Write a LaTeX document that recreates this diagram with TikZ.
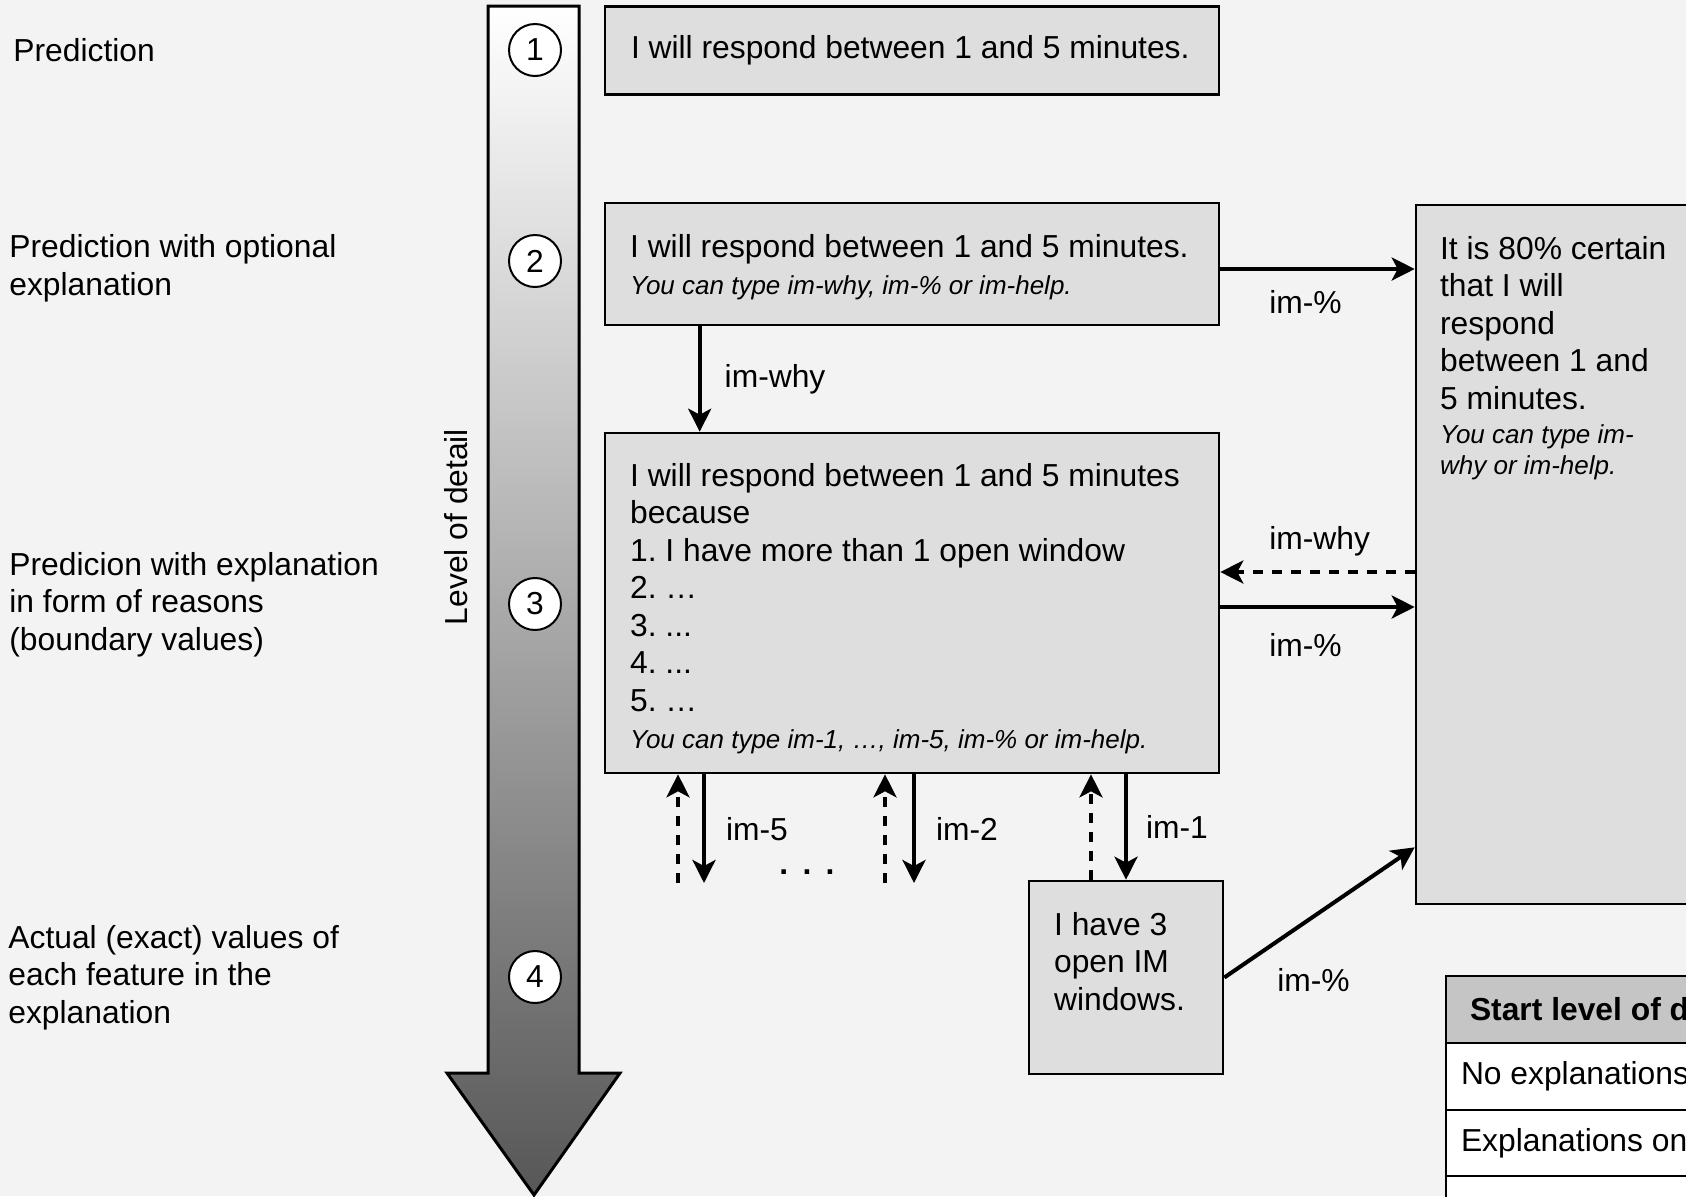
\documentclass[tikz,border=0pt]{standalone}
\usepackage{fontspec}
\setmainfont{Liberation Sans}
\usetikzlibrary{calc,positioning,arrows.meta}
\definecolor{paper}{RGB}{243,243,243}
\definecolor{msgfill}{RGB}{222,222,222}
\definecolor{headfill}{RGB}{196,197,196}
\frenchspacing
\newcommand{\hintfont}{\fontsize{13}{18.75}\selectfont\itshape}
\tikzset{%
  txt/.style = { font=\fontsize{15.9}{18.75}\selectfont },
  plain/.style = { execute at begin node={\spaceskip=0pt\xspaceskip=0pt} },
  level/.style = { txt, align=left, anchor=west, inner sep=0pt },
  msg/.style = { txt, plain, draw=black, fill=msgfill, line width=1.3pt, align=left, inner xsep=13pt, inner ysep=0pt },
  note/.style = { txt, plain, align=left, anchor=north west, inner sep=0pt },
  num/.style = { txt, circle, draw=black, fill=white, line width=1pt, minimum size=26pt, inner sep=0pt },
  lab/.style = { txt, inner sep=0pt },
  cmd/.style = { draw=black, line width=2pt, -{Stealth[length=11.5pt,width=11.5pt,inset=3pt]} },
  back/.style = { cmd, dash pattern=on 5pt off 4.5pt },
  cell/.style = { txt, plain, draw=black, line width=1pt, outer sep=0pt, minimum width=160pt, minimum height=33.4pt, align=left, inner ysep=0pt }
}

\begin{document}
\begin{tikzpicture}[x=0.5pt, y=0.5pt]
  \useasboundingbox (0,0) rectangle (1686,-1196);
  \clip (0,0) rectangle (1686,-1196);
  \fill[paper] (0,0) rectangle (1686,-1196);

  % Level of detail arrow
  \shade[top color=white, bottom color=black!66, draw=black, line width=1.5pt]
    (488,-6) -- (579,-6) -- (579,-1073) -- (620,-1073) -- (534,-1195) -- (447,-1073) -- (488,-1073) -- cycle;
  \node[txt, rotate=90] (lod) at (456,-527) {Level of detail};

  % Levels
  \node[num] (n1) at (535,-50) {1};
  \node[num] (n2) at (535,-261) {2};
  \node[num] (n3) at (535,-604) {3};
  \node[num] (n4) at (535,-977) {4};

  \node[level] (l1) at (13,-50) {Prediction};
  \node[level] (l2) at (9,-268.5) {Prediction with optional\\explanation};
  \node[level] (l3) at (9,-604.5) {Predicion with explanation\\in form of reasons\\(boundary values)};
  \node[level] (l4) at (8,-977.5) {Actual (exact) values of\\each feature in the\\explanation};

  % Messages
  \node[msg, text width=281pt, minimum height=44pt] (b1) at (912,-50.5) {I will respond between 1 and 5 minutes.};

  \node[msg, minimum width=307pt, minimum height=61pt] (b2) at (912,-264) {};
  \node[note, text width=281pt] (t2) at ($(b2.north west)+(26,-32)$) {I will respond between 1 and 5 minutes.\\{\hintfont You can type im-why, im-\% or im-help.}};

  \node[msg, minimum width=307pt, minimum height=170pt] (b3) at (912,-603) {};
  \node[note, text width=281pt] (t3) at ($(b3.north west)+(26,-31)$) {I will respond between 1 and 5 minutes\\because\\1. I have more than 1 open window\\2. …\\3. ...\\4. ...\\5. …\\{\hintfont You can type im-1, …, im-5, im-\% or im-help.}};

  \node[msg, minimum width=97pt, minimum height=96.5pt] (b4) at (1126,-977.5) {};
  \node[note] (t4) at ($(b4.north west)+(26,-32)$) {I have 3\\open IM\\windows.};

  \node[msg, minimum width=172pt, minimum height=349.5pt] (rb) at (1588,-554.5) {};
  \node[note, text width=130pt] (t5) at ($(rb.north west)+(25,-32)$) {It is 80\% certain\\that I will\\respond\\between 1 and\\5 minutes.\par\vspace{1.75pt}{\fontsize{13}{15.5}\selectfont\itshape You can type im-\\why or im-help.\par}};

  % Table
  \node[cell, fill=headfill, text width=136pt, inner xsep=12pt] (th) at (1606,-1009.4) {\bfseries Start level of d};
  \node[cell, fill=white, text width=145pt, inner xsep=7.5pt, below=0pt of th] (r1) {No explanations};
  \node[cell, fill=white, text width=145pt, inner xsep=7.5pt, below=0pt of r1] (r2) {Explanations on};
  \node[cell, fill=white, below=0pt of r2] (r3) {};

  % Commands
  \draw[cmd] ([yshift=-2.5pt]b2.east) -- ([yshift=-2.5pt]b2.east -| rb.west) node[lab, pos=0, anchor=west, xshift=23.5pt, yshift=-16.5pt] {im-\%};
  \draw[cmd] ([xshift=48pt]b2.south west) -- ([xshift=48pt]b2.south west |- b3.north) node[lab, midway, anchor=west, xshift=11.5pt] {im-why};
  \draw[back] ([yshift=15.5pt]b3.east -| rb.west) -- ([yshift=15.5pt]b3.east) node[lab, pos=1, anchor=west, xshift=23.5pt, yshift=15.5pt] {im-why};
  \draw[cmd] ([yshift=-2pt]b3.east) -- ([yshift=-2pt]b3.east -| rb.west) node[lab, pos=0, anchor=west, xshift=23.5pt, yshift=-19pt] {im-\%};
  \draw[cmd] (b4.east) -- ([yshift=29pt]rb.south west) node[lab, pos=0, anchor=west, xshift=25.5pt, yshift=-1.25pt] {im-\%};

  \foreach \x/\y/\n in {704/678/5, 914/885/2} {
    \coordinate (down\n) at (\x,-883);
    \coordinate (up\n) at (\y,-883);
    \draw[cmd] (b3.south -| down\n) -- (down\n) node[lab, midway, anchor=west, xshift=10pt] {im-\n};
    \draw[back] (up\n) -- (b3.south -| up\n);
  }
  \draw[cmd] (b3.south -| b4.north) -- (b4.north) node[lab, midway, anchor=west, xshift=9pt] {im-\vphantom{5}1};
  \coordinate (up1) at ([xshift=-17.5pt]b4.north);
  \draw[back] (up1) -- (b3.south -| up1);
  \node[lab] (dots) at (807,-872) {\textbf{.\hspace{0.45em}.\hspace{0.45em}.}};
\end{tikzpicture}
\end{document}
